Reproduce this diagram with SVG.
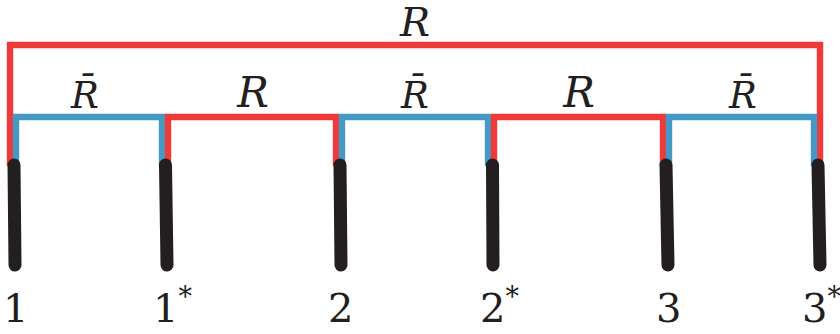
<svg xmlns="http://www.w3.org/2000/svg" width="840" height="334" viewBox="0 0 840 334">
<style>
.red{fill:none;stroke:#ee3a3a;stroke-width:6.4;stroke-linejoin:miter;stroke-linecap:butt}
.blue{fill:none;stroke:#4599c5;stroke-width:6.4;stroke-linejoin:miter;stroke-linecap:butt}
.bar{stroke:#231f20;stroke-width:13;stroke-linecap:round}
text{font-family:'DejaVu Serif','Liberation Serif',serif;fill:#231f20}
.lbl{font-size:40px}
.sup{font-size:27px}
.R{font-style:italic;font-size:42px;text-anchor:middle}
.Rt{font-style:italic;font-size:40px;text-anchor:middle}
.Rb{font-style:italic;font-size:37px;text-anchor:middle}
</style>
<rect width="840" height="334" fill="#ffffff"/>
<g id="connectors">
<path class="red" d="M10,166 V45 H820 V166"/>
<path class="blue" d="M16,166 V117 H162 V166"/>
<path class="red" d="M168,166 V117 H336 V166"/>
<path class="blue" d="M342,166 V117 H488 V166"/>
<path class="red" d="M494,166 V117 H663 V166"/>
<path class="blue" d="M669,166 V117 H814 V166"/>
<text class="Rt" x="415" y="36">R</text>
<text class="Rb" x="85" y="108">R&#x304;</text>
<text class="R" x="253" y="107">R</text>
<text class="Rb" x="415" y="108">R&#x304;</text>
<text class="R" x="579" y="107">R</text>
<text class="Rb" x="743" y="108">R&#x304;</text>
</g>
<g id="node-1">
<line class="bar" x1="14" y1="165" x2="15" y2="265"/>
<text class="lbl" x="3" y="322">1</text>
</g>
<g id="node-1star">
<line class="bar" x1="165.5" y1="165" x2="167" y2="265"/>
<text class="lbl" x="153" y="322">1<tspan class="sup" dy="-16">*</tspan></text>
</g>
<g id="node-2">
<line class="bar" x1="340" y1="165" x2="341" y2="265"/>
<text class="lbl" x="328" y="322">2</text>
</g>
<g id="node-2star">
<line class="bar" x1="492.5" y1="165" x2="493" y2="265"/>
<text class="lbl" x="480" y="322">2<tspan class="sup" dy="-16">*</tspan></text>
</g>
<g id="node-3">
<line class="bar" x1="666" y1="165" x2="668" y2="265"/>
<text class="lbl" x="656" y="322">3</text>
</g>
<g id="node-3star">
<line class="bar" x1="818" y1="165" x2="820" y2="265"/>
<text class="lbl" x="802" y="322">3<tspan class="sup" dy="-16">*</tspan></text>
</g>
</svg>
